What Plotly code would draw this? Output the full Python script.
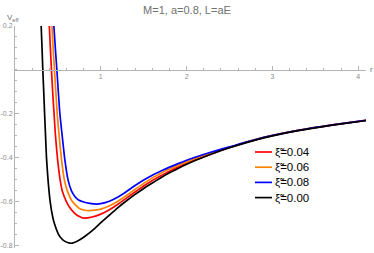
import plotly.graph_objects as go

# ---- data ----
names = ["ξ̃=0.04", "ξ̃=0.06", "ξ̃=0.08", "ξ̃=0.00"]
colors = ["#FF0000", "#FF8000", "#0000FF", "#000000"]

r_red = [0.400, 0.412, 0.425, 0.439, 0.455, 0.470, 0.485, 0.497, 0.512, 0.528, 0.550,
         0.600, 0.640, 0.690, 0.744, 0.800, 0.900, 1.000, 1.100, 1.200, 1.300, 1.400,
         1.500, 1.600, 1.700, 1.800, 1.900, 2.000, 2.100, 2.300, 2.500, 2.900, 3.300,
         3.700, 4.090]
v_red = [0.200, 0.100, 0.000, -0.100, -0.200, -0.290, -0.360, -0.410, -0.460, -0.505, -0.550,
         -0.600, -0.627, -0.650, -0.666, -0.674, -0.669, -0.656, -0.636, -0.611, -0.583, -0.555,
         -0.528, -0.503, -0.481, -0.461, -0.442, -0.425, -0.409, -0.380, -0.353, -0.307, -0.275,
         -0.250, -0.229]

r_orange = [0.430, 0.445, 0.460, 0.476, 0.492, 0.519, 0.540, 0.575, 0.610, 0.670, 0.750,
            0.800, 0.860, 0.930, 1.000, 1.100, 1.200, 1.300, 1.400, 1.500, 1.600, 1.700,
            1.800, 1.900, 2.000, 2.100, 2.300, 2.500, 2.900, 3.300, 3.700, 4.090]
v_orange = [0.200, 0.100, 0.000, -0.100, -0.200, -0.318, -0.400, -0.500, -0.550, -0.600, -0.630,
            -0.637, -0.640, -0.638, -0.633, -0.618, -0.597, -0.571, -0.543, -0.516, -0.491, -0.470,
            -0.451, -0.434, -0.418, -0.403, -0.376, -0.352, -0.307, -0.275, -0.250, -0.229]

r_blue = [0.453, 0.470, 0.488, 0.505, 0.523, 0.555, 0.578, 0.618, 0.658, 0.700, 0.740,
          0.800, 0.870, 0.950, 1.000, 1.100, 1.200, 1.300, 1.400, 1.500, 1.600, 1.700,
          1.800, 1.900, 2.000, 2.100, 2.300, 2.500, 2.900, 3.300, 3.700, 4.090]
v_blue = [0.200, 0.100, 0.000, -0.100, -0.200, -0.318, -0.400, -0.500, -0.550, -0.577, -0.592,
          -0.601, -0.607, -0.610, -0.608, -0.597, -0.578, -0.553, -0.526, -0.501, -0.479, -0.460,
          -0.442, -0.426, -0.411, -0.397, -0.372, -0.350, -0.307, -0.275, -0.250, -0.229]

r_black = [0.305, 0.315, 0.324, 0.335, 0.345, 0.356, 0.367, 0.385, 0.410, 0.440, 0.460,
           0.510, 0.560, 0.620, 0.667, 0.730, 0.800, 0.900, 1.000, 1.100, 1.200, 1.300,
           1.400, 1.500, 1.600, 1.700, 1.800, 1.900, 2.000, 2.100, 2.300, 2.500, 2.900,
           3.300, 3.700, 4.090]
v_black = [0.200, 0.100, 0.000, -0.100, -0.200, -0.300, -0.400, -0.500, -0.600, -0.670, -0.700,
           -0.750, -0.774, -0.786, -0.788, -0.778, -0.761, -0.731, -0.695, -0.660, -0.626, -0.595,
           -0.566, -0.539, -0.514, -0.490, -0.468, -0.448, -0.429, -0.412, -0.381, -0.354, -0.309,
           -0.276, -0.251, -0.230]

series_r = [r_red, r_orange, r_blue, r_black]
series_v = [v_red, v_orange, v_blue, v_black]

x_ticks = [1, 2, 3, 4]
y_ticks = [0.2, -0.2, -0.4, -0.6, -0.8]
y_ticktext = ["0.2", "-0.2", "-0.4", "-0.6", "-0.8"]

title_text = "M=1, a=0.8, L=aE"

# ---- figure ----
XR = [0, 4.09]
YR = [-0.81, 0.2]
W, H = 374, 253
ML, MR, MT, MB = 15, 8, 26, 5
axis_col = "#b4b4b4"
tick_font = dict(family="Liberation Sans, Arial, sans-serif", size=7, color="#8a8a8a")

fig = go.Figure()
for rr, vv, nm, col in zip(series_r, series_v, names, colors):
    fig.add_trace(go.Scatter(x=rr, y=vv, mode="lines", name=nm,
                             line=dict(color=col, width=1.7, shape="spline", smoothing=0.5),
                             showlegend=False, hoverinfo="skip"))

x_pos = (0 - YR[0]) / (YR[1] - YR[0])

fig.update_layout(
    width=W, height=H,
    margin=dict(l=ML, r=MR, t=MT, b=MB, autoexpand=False),
    paper_bgcolor="white", plot_bgcolor="white",
    title=dict(text=title_text, x=0.5, xref="container", xanchor="center",
               y=1 - 10 / H, yref="container", yanchor="middle", automargin=False,
               font=dict(family="Liberation Sans, Arial, sans-serif", size=11, color="#707070")),
    xaxis=dict(range=XR, anchor="free", position=x_pos, showline=True, linecolor=axis_col,
               linewidth=1, showgrid=False, zeroline=False, ticks="inside", ticklen=4,
               tickcolor=axis_col, tickvals=x_ticks, tickfont=tick_font, automargin=False,
               minor=dict(dtick=0.2, ticks="inside", ticklen=2, tickcolor=axis_col)),
    yaxis=dict(range=YR, showline=True, linecolor=axis_col, linewidth=1, showgrid=False,
               zeroline=False, ticks="inside", ticklen=4, tickcolor=axis_col, automargin=False,
               tickvals=y_ticks, ticktext=y_ticktext, tickfont=tick_font,
               minor=dict(dtick=0.05, ticks="inside", ticklen=2, tickcolor=axis_col)),
    showlegend=False,
)

plot_w = W - ML - MR
plot_h = H - MT - MB

def px_x(p):
    return (p - ML) / plot_w

def px_y(p):
    return (H - MB - p) / plot_h

# axis labels
fig.add_annotation(x=px_x(5), y=px_y(18), xref="paper", yref="paper", xanchor="left",
                   yanchor="middle", showarrow=False, text="V<sub>eff</sub>",
                   font=dict(family="Liberation Sans, Arial, sans-serif", size=8, color="#707070"))
fig.add_annotation(x=px_x(371), y=x_pos, xref="paper", yref="paper", xanchor="center",
                   yanchor="middle", showarrow=False, text="r",
                   font=dict(family="Liberation Sans, Arial, sans-serif", size=8, color="#707070"))

# legend (drawn manually)
row0, dy = 152, 15.2
for i, (nm, col) in enumerate(zip(names, colors)):
    yy = px_y(row0 + i * dy)
    fig.add_shape(type="line", xref="paper", yref="paper", x0=px_x(255), x1=px_x(272),
                  y0=yy, y1=yy, line=dict(color=col, width=1.7))
    fig.add_annotation(x=px_x(273), y=yy, xref="paper", yref="paper", xanchor="left",
                       yanchor="middle", showarrow=False, text=nm,
                       font=dict(family="Liberation Sans, Arial, sans-serif", size=11.5, color="black"))

fig.write_html("out.html", config={"displayModeBar": False, "staticPlot": True},
               post_script="document.body.style.margin='0';document.body.style.padding='0';"
                           "document.documentElement.style.overflow='hidden';")
